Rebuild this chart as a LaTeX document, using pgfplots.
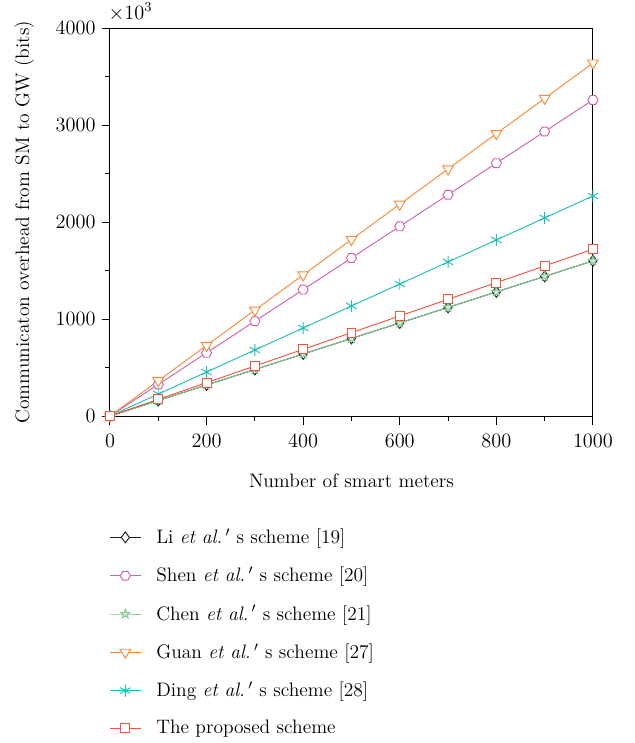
\documentclass[border=0pt]{standalone}
\usepackage{pgfplots}
\pgfplotsset{compat=1.18}
\definecolor{cLi}{RGB}{30,30,30}
\definecolor{cShen}{RGB}{204,96,180}
\definecolor{cChen}{RGB}{130,200,145}
\definecolor{cGuan}{RGB}{246,138,54}
\definecolor{cDing}{RGB}{30,190,180}
\definecolor{cProp}{RGB}{240,84,62}
\pgfdeclareplotmark{hexagon}{%
  \pgfpathmoveto{\pgfqpointpolar{0}{\pgfplotmarksize}}%
  \pgfpathlineto{\pgfqpointpolar{60}{\pgfplotmarksize}}%
  \pgfpathlineto{\pgfqpointpolar{120}{\pgfplotmarksize}}%
  \pgfpathlineto{\pgfqpointpolar{180}{\pgfplotmarksize}}%
  \pgfpathlineto{\pgfqpointpolar{240}{\pgfplotmarksize}}%
  \pgfpathlineto{\pgfqpointpolar{300}{\pgfplotmarksize}}%
  \pgfpathclose\pgfusepathqfillstroke}
\pgfdeclareplotmark{ostar}{%
  \pgfpathmoveto{\pgfqpointpolar{90}{\pgfplotmarksize}}%
  \pgfpathlineto{\pgfqpointpolar{126}{0.4\pgfplotmarksize}}%
  \pgfpathlineto{\pgfqpointpolar{162}{\pgfplotmarksize}}%
  \pgfpathlineto{\pgfqpointpolar{198}{0.4\pgfplotmarksize}}%
  \pgfpathlineto{\pgfqpointpolar{234}{\pgfplotmarksize}}%
  \pgfpathlineto{\pgfqpointpolar{270}{0.4\pgfplotmarksize}}%
  \pgfpathlineto{\pgfqpointpolar{306}{\pgfplotmarksize}}%
  \pgfpathlineto{\pgfqpointpolar{342}{0.4\pgfplotmarksize}}%
  \pgfpathlineto{\pgfqpointpolar{18}{\pgfplotmarksize}}%
  \pgfpathlineto{\pgfqpointpolar{54}{0.4\pgfplotmarksize}}%
  \pgfpathclose\pgfusepathqfillstroke}
\newcommand{\etal}{\textit{et al.}\,$'$ s}
\begin{document}
\begin{tikzpicture}[font=\fontsize{11.5pt}{14pt}\selectfont]
\begin{axis}[
  name=ax,
  scale only axis,
  width=285pt, height=228.9pt,
  xmin=0, xmax=1000, ymin=0, ymax=4000,
  xtick={0,200,...,1000}, minor xtick={100,300,...,900},
  ytick={0,1000,2000,3000,4000}, minor ytick={500,1500,2500,3500},
  scaled y ticks=false,
  /pgf/number format/1000 sep={},
  tick label style={font=\fontsize{11.5pt}{14pt}\selectfont},
  label style={font=\fontsize{11.5pt}{14pt}\selectfont},
  tick pos=left, tick align=outside,
  major tick length=5pt, minor tick length=3pt,
  axis line style={line width=0.6pt},
  every tick/.style={black, line width=0.6pt},
  xlabel={Number of smart meters},
  ylabel={Communicaton overhead from SM to GW (bits)},
  xticklabel style={yshift=-2pt},
  xlabel style={yshift=-9pt},
  ylabel style={yshift=6pt},
  legend cell align=left,
  legend style={draw=none, fill=none, at={(-0.012,-0.272)}, anchor=north west,
    row sep=8.3pt, font=\fontsize{11.5pt}{14pt}\selectfont},
  legend image code/.code={%
    \draw[mark repeat=2,mark phase=2,#1] plot coordinates {(0pt,0pt) (9pt,0pt) (18pt,0pt)};
    \path (25pt,0pt);},
  every axis plot/.append style={line width=0.55pt},
]
\addplot[cLi, mark=diamond*, mark size=3.2pt, mark options={fill=white}] coordinates {
(0,0) (100,160) (200,320) (300,480) (400,640) (500,800) (600,960) (700,1120) (800,1280) (900,1440) (1000,1600)};
\addlegendentry{Li \etal\ scheme [19]}
\addplot[cShen, mark=hexagon, mark size=3pt, mark options={fill=white}] coordinates {
(0,0) (100,326) (200,652) (300,978) (400,1304) (500,1630) (600,1956) (700,2282) (800,2608) (900,2934) (1000,3260)};
\addlegendentry{Shen \etal\ scheme [20]}
\addplot[cChen, mark=ostar, mark size=2.8pt, mark options={fill=cChen!35}] coordinates {
(0,0) (100,160) (200,320) (300,480) (400,640) (500,800) (600,960) (700,1120) (800,1280) (900,1440) (1000,1600)};
\addlegendentry{Chen \etal\ scheme [21]}
\addplot[cGuan, mark=triangle*, mark size=3.6pt, mark options={fill=white, rotate=180}] coordinates {
(0,0) (100,364) (200,728) (300,1092) (400,1456) (500,1820) (600,2184) (700,2548) (800,2912) (900,3276) (1000,3640)};
\addlegendentry{Guan \etal\ scheme [27]}
\addplot[cDing, mark=asterisk, mark size=3.5pt] coordinates {
(0,0) (100,227) (200,454) (300,681) (400,908) (500,1135) (600,1362) (700,1589) (800,1816) (900,2043) (1000,2270)};
\addlegendentry{Ding \etal\ scheme [28]}
\addplot[cProp, mark=square*, mark size=2.6pt, mark options={fill=white}] coordinates {
(0,0) (100,172) (200,344) (300,516) (400,688) (500,860) (600,1032) (700,1204) (800,1376) (900,1548) (1000,1720)};
\addlegendentry{The proposed scheme}
\end{axis}
\node[anchor=south west, inner sep=0pt] at ([xshift=-1pt,yshift=4pt]ax.north west) {$\times10^3$};
\path (ax.south west) ++(-64.9pt,-192.9pt) rectangle ++(374.6pt,438.4pt);
\end{tikzpicture}
\end{document}
